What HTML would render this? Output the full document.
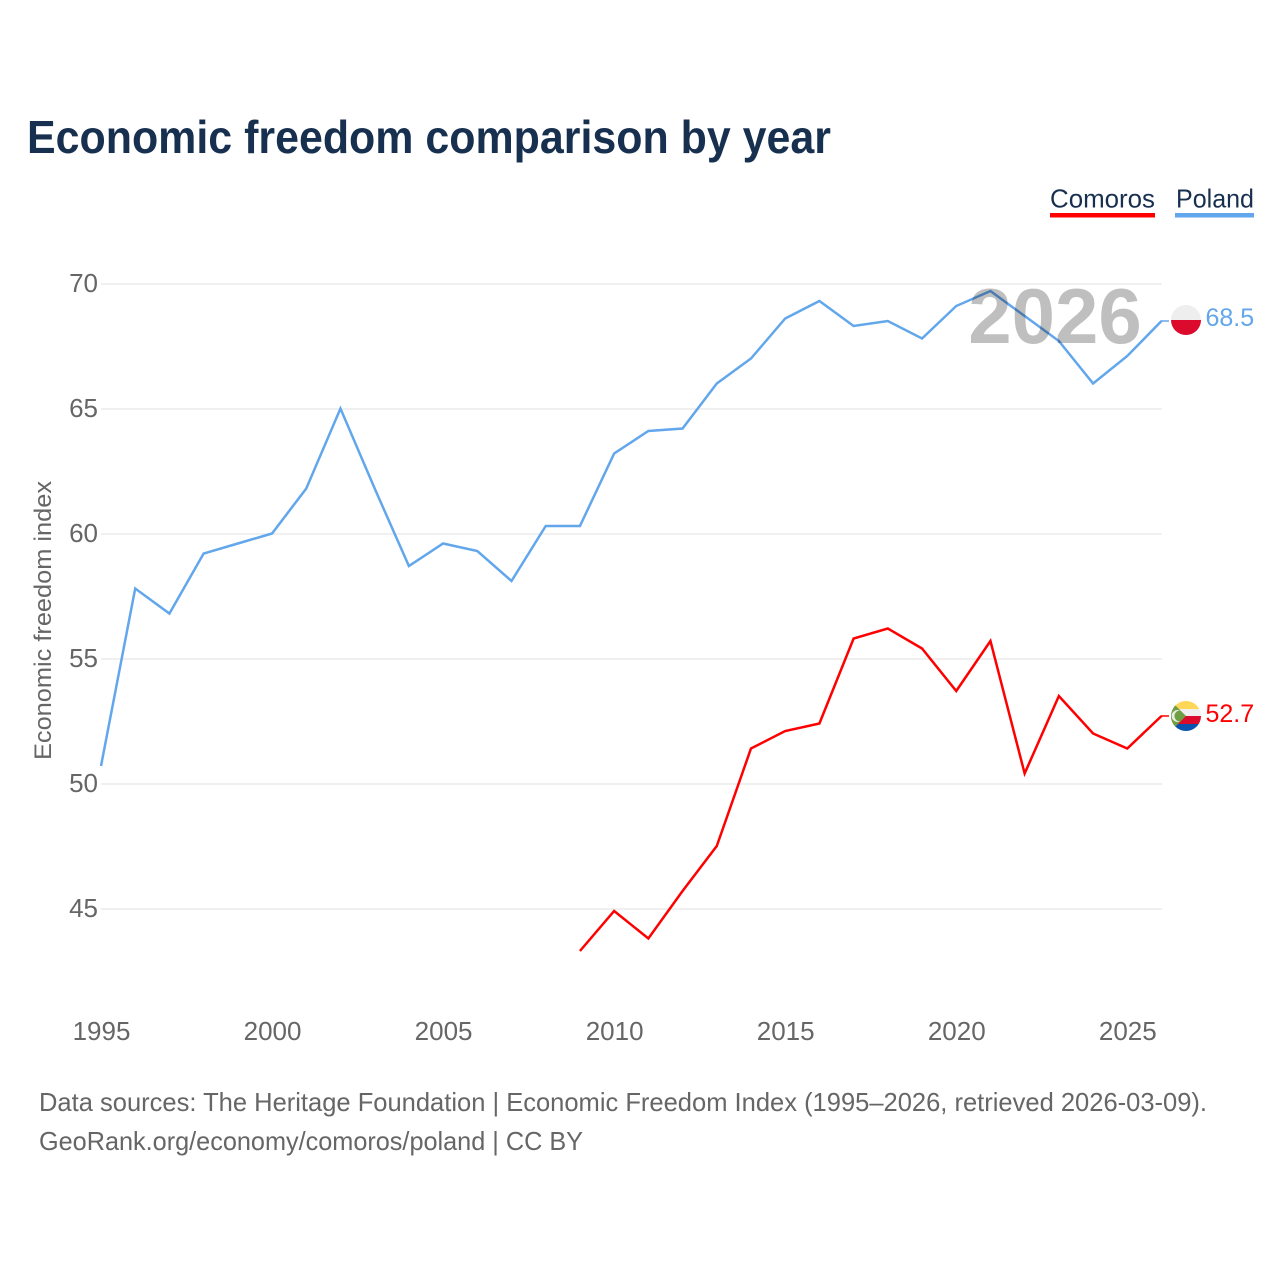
<!DOCTYPE html>
<html lang="en">
<head>
<meta charset="utf-8">
<title>Economic freedom comparison by year</title>
<style>
html,body{margin:0;padding:0;background:#fff;}
svg{display:block;font-family:"Liberation Sans",sans-serif;}
</style>
</head>
<body>
<svg id="chart" xmlns="http://www.w3.org/2000/svg" width="1280" height="1280" viewBox="0 0 1280 1280">
  <defs>
    <clipPath id="clip-pl"><circle cx="1186" cy="320" r="15"></circle></clipPath>
    <clipPath id="clip-km"><circle cx="1186" cy="716" r="15"></circle></clipPath>
  </defs>
  <rect width="1280" height="1280" fill="#fff"></rect>
  <text x="27" y="153" font-size="46" font-weight="700" fill="#18304f" textLength="804" lengthAdjust="spacingAndGlyphs">Economic freedom comparison by year</text>

  <g>
    <g>
      <text x="1050" y="207.5" font-size="26" fill="#18304f" textLength="105" lengthAdjust="spacingAndGlyphs">Comoros</text>
      <rect x="1050" y="213" width="105" height="4.5" fill="#ff0000"></rect>
    </g>
    <g>
      <text x="1176" y="207.5" font-size="26" fill="#18304f" textLength="78" lengthAdjust="spacingAndGlyphs">Poland</text>
      <rect x="1175" y="213" width="79" height="4.5" fill="#62a6ec"></rect>
    </g>
  </g>

  <g id="grid"></g>
  <g id="y-ticks"></g>
  <g id="x-ticks"></g>
  <text transform="translate(51,760) rotate(-90)" font-size="24" fill="#666" textLength="279" lengthAdjust="spacingAndGlyphs">Economic freedom index</text>

  <g id="series"></g>
  <text x="1055" y="343" font-size="78" font-weight="700" text-anchor="middle" fill="#000" fill-opacity="0.25">2026</text>
  <g id="ends"></g>

  <g clip-path="url(#clip-pl)">
    <rect x="1171" y="305" width="30" height="15" fill="#eeeeee"></rect>
    <rect x="1171" y="320" width="30" height="15" fill="#dc0a2d"></rect>
  </g>
  <g clip-path="url(#clip-km)">
    <rect x="1171" y="701" width="30" height="8" fill="#ffd758"></rect>
    <rect x="1171" y="709" width="30" height="7" fill="#efefef"></rect>
    <rect x="1171" y="716" width="30" height="8" fill="#dc0a2d"></rect>
    <rect x="1171" y="724" width="30" height="7" fill="#0a52b0"></rect>
    <path d="M1171 701 L1186 716 L1171 731 Z" fill="#6f9e45"></path>
    <path d="M1180 710.5 A6 6 0 1 0 1180 721.5 A5 5 0 1 1 1180 710.5 Z" fill="#e6efdd"></path>
  </g>

  <text x="39" y="1111" font-size="26" fill="#666" textLength="1168" lengthAdjust="spacingAndGlyphs">Data sources: The Heritage Foundation | Economic Freedom Index (1995–2026, retrieved 2026-03-09).</text>
  <text x="39" y="1150" font-size="26" fill="#666" textLength="544" lengthAdjust="spacingAndGlyphs">GeoRank.org/economy/comoros/poland | CC BY</text>
</svg>
<script>
var years = [1995,1996,1997,1998,1999,2000,2001,2002,2003,2004,2005,2006,2007,2008,2009,2010,2011,2012,2013,2014,2015,2016,2017,2018,2019,2020,2021,2022,2023,2024,2025,2026];
var polandValues = [50.7,57.8,56.8,59.2,59.6,60.0,61.8,65.0,61.8,58.7,59.6,59.3,58.1,60.3,60.3,63.2,64.1,64.2,66.0,67.0,68.6,69.3,68.3,68.5,67.8,69.1,69.7,68.7,67.7,66.0,67.1,68.5];
var comorosValues = [null,null,null,null,null,null,null,null,null,null,null,null,null,null,43.3,44.9,43.8,45.7,47.5,51.4,52.1,52.4,55.8,56.2,55.4,53.7,55.7,50.4,53.5,52.0,51.4,52.7];
var yTickLabels = [45,50,55,60,65,70];
var xTickLabels = [1995,2000,2005,2010,2015,2020,2025];

var NS = 'http://www.w3.org/2000/svg';
function xScale(year) { return 101 + (year - 1995) * (1161.5 - 101) / (2026 - 1995); }
function yScale(value) { return 284 + (70 - value) * 25; }
function make(tag, parentId) {
  var el = document.createElementNS(NS, tag);
  document.getElementById(parentId).appendChild(el);
  return el;
}

yTickLabels.forEach(function (tick) {
  var line = make('line', 'grid');
  
  
  line.setAttribute('x1', 101);
  line.setAttribute('x2', 1162);
  line.setAttribute('y1', yScale(tick));
  line.setAttribute('y2', yScale(tick));
  line.setAttribute('stroke', '#ebebeb');
  line.setAttribute('stroke-width', '1.5');
  var label = make('text', 'y-ticks');
  
  
  label.setAttribute('x', 98);
  label.setAttribute('y', yScale(tick) + 8);
  label.setAttribute('font-size', '26');
  label.setAttribute('text-anchor', 'end');
  label.setAttribute('fill', '#666');
  label.textContent = tick;
});

xTickLabels.forEach(function (tick) {
  var label = make('text', 'x-ticks');
  
  
  label.setAttribute('x', xScale(tick) + 0.5);
  label.setAttribute('y', 1040);
  label.setAttribute('font-size', '26');
  label.setAttribute('text-anchor', 'middle');
  label.setAttribute('fill', '#666');
  label.textContent = tick;
});

function pointsFor(values) {
  var pts = [];
  values.forEach(function (v, i) {
    if (v !== null) { pts.push(xScale(years[i]).toFixed(2) + ',' + (yScale(v) - 0.5).toFixed(2)); }
  });
  return pts.join(' ');
}

var comorosLine = make('polyline', 'series');


comorosLine.setAttribute('points', pointsFor(comorosValues));
comorosLine.setAttribute('fill', 'none');
comorosLine.setAttribute('stroke', '#ff0000');
comorosLine.setAttribute('stroke-width', '2.5');

var polandLine = make('polyline', 'series');


polandLine.setAttribute('points', pointsFor(polandValues));
polandLine.setAttribute('fill', 'none');
polandLine.setAttribute('stroke', '#62a6ec');
polandLine.setAttribute('stroke-width', '2.5');

var lastPoland = polandValues[polandValues.length - 1];
var lastComoros = comorosValues[comorosValues.length - 1];

var polandConnector = make('line', 'ends');


polandConnector.setAttribute('x1', 1161);
polandConnector.setAttribute('x2', 1169);
polandConnector.setAttribute('y1', yScale(lastPoland) - 0.5);
polandConnector.setAttribute('y2', yScale(lastPoland) - 0.5);
polandConnector.setAttribute('stroke', '#62a6ec');
polandConnector.setAttribute('stroke-width', '1.5');

var comorosConnector = make('line', 'ends');


comorosConnector.setAttribute('x1', 1161);
comorosConnector.setAttribute('x2', 1169);
comorosConnector.setAttribute('y1', yScale(lastComoros) - 0.5);
comorosConnector.setAttribute('y2', yScale(lastComoros) - 0.5);
comorosConnector.setAttribute('stroke', '#ff0000');
comorosConnector.setAttribute('stroke-width', '1.5');

var polandLabel = make('text', 'ends');


polandLabel.setAttribute('x', 1205.5);
polandLabel.setAttribute('y', 326);
polandLabel.setAttribute('font-size', '25');
polandLabel.setAttribute('fill', '#62a6ec');
polandLabel.textContent = lastPoland.toFixed(1);

var comorosLabel = make('text', 'ends');


comorosLabel.setAttribute('x', 1205.5);
comorosLabel.setAttribute('y', 722);
comorosLabel.setAttribute('font-size', '25');
comorosLabel.setAttribute('fill', '#ff0000');
comorosLabel.textContent = lastComoros.toFixed(1);
</script>
</body>
</html>
